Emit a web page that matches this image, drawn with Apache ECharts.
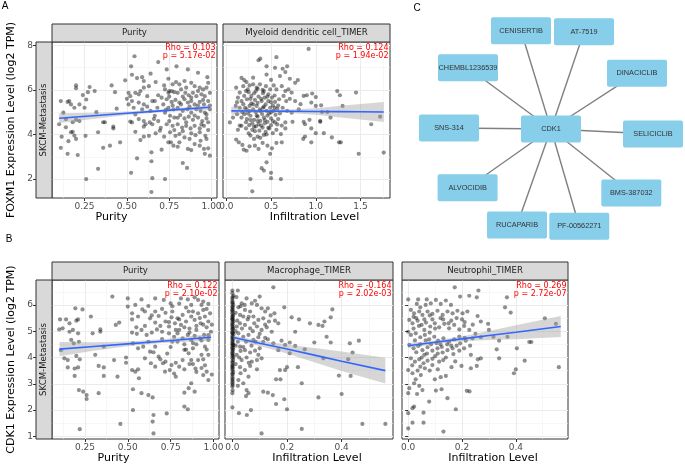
<!DOCTYPE html>
<html><head><meta charset="utf-8">
<script src="https://cdn.jsdelivr.net/npm/echarts@6/dist/echarts.min.js"></script>
<style>html,body{margin:0;padding:0;background:#fff}#c{width:685px;height:470px}</style>
</head><body><div id="c"></div>
<script>
// ---------------- DATA ----------------
const a1Points = [[0.11,5.5],[0.15,5.46],[0.16,5.5],[0.2,6.2],[0.2,6.08],[0.24,5.77],[0.28,6.13],[0.31,5.95],[0.26,5.57],[0.19,5.2],[0.17,5.35],[0.22,5.35],[0.25,5.2],[0.32,5.0],[0.125,4.98],[0.1,4.46],[0.14,4.69],[0.18,4.55],[0.2,4.66],[0.22,4.6],[0.14,4.32],[0.17,4.1],[0.18,4.12],[0.19,3.95],[0.2,3.8],[0.155,3.7],[0.115,3.9],[0.11,3.4],[0.15,3.13],[0.21,3.08],[0.256,3.94],[0.33,4.1],[0.36,4.55],[0.37,4.55],[0.42,4.35],[0.42,4.27],[0.36,3.4],[0.4,3.5],[0.46,3.65],[0.33,2.46],[0.26,2.0],[0.41,6.2],[0.43,5.9],[0.44,5.16],[0.27,5.9],
[0.545,7.51],[0.525,7.06],[0.53,6.68],[0.49,6.43],[0.56,6.53],[0.59,6.57],[0.6,6.4],[0.64,6.73],[0.51,5.87],[0.52,5.72],[0.5,5.6],[0.55,5.87],[0.57,5.8],[0.6,6.1],[0.63,6.17],[0.62,5.72],[0.57,5.43],[0.6,5.35],[0.65,5.5],[0.51,5.35],[0.54,5.2],[0.59,5.13],[0.64,5.06],[0.52,4.58],[0.53,4.54],[0.57,4.69],[0.6,4.6],[0.61,4.46],[0.635,4.54],[0.55,4.12],[0.6,3.9],[0.63,3.94],[0.65,4.46],[0.645,3.2],[0.56,2.93],[0.525,2.28],[0.645,2.8],[0.65,2.04],[0.645,1.42],[0.67,6.35],[0.685,5.76],[0.665,5.5],[0.68,5.2],[0.665,4.84],[0.685,4.6],[0.695,4.17],[0.705,3.32],[0.725,2.0],[0.735,6.92],[0.685,7.25],
[0.793,7.06],[0.86,6.92],[0.92,6.77],[0.975,6.57],[0.745,6.5],[0.79,6.35],[0.77,6.25],[0.81,6.25],[0.84,6.4],[0.88,6.32],[0.9,6.17],[0.93,6.1],[0.95,6.02],[0.98,6.32],[0.725,6.02],[0.745,5.87],[0.765,5.95],[0.8,5.87],[0.82,6.02],[0.845,5.87],[0.865,5.76],[0.89,5.87],[0.91,5.72],[0.94,5.8],[0.96,5.72],[0.99,5.87],[0.705,5.65],[0.735,5.58],[0.765,5.46],[0.787,5.55],[0.81,5.43],[0.84,5.58],[0.86,5.43],[0.88,5.5],[0.9,5.35],[0.93,5.46],[0.955,5.35],[0.98,5.5],[0.715,5.35],[0.745,5.2],[0.775,5.13],[0.8,5.2],[0.83,5.06],[0.857,5.13],[0.88,4.98],[0.91,5.13],[0.935,5.06],[0.96,4.98],[0.99,5.13],[0.725,4.98],[0.755,4.84],[0.78,4.76],[0.815,4.87],[0.84,4.72],[0.865,4.8],[0.89,4.66],[0.92,4.76],[0.945,4.6],[0.97,4.72],[0.735,4.46],[0.77,4.39],[0.8,4.46],[0.826,4.31],[0.85,4.39],[0.876,4.27],[0.9,4.39],[0.93,4.27],[0.955,4.39],[0.98,4.2],[0.755,4.1],[0.787,3.94],[0.81,4.02],[0.84,3.87],[0.87,3.8],[0.905,3.97],[0.935,3.72],[0.963,3.94],[0.745,3.65],[0.775,3.5],[0.81,3.65],[0.86,3.35],[0.9,3.57],[0.955,3.35],[0.98,3.38],[0.96,3.13],[0.83,2.72],[0.855,2.5],[0.76,3.65],
[0.72,6.2],[0.75,5.7],[0.78,5.9],[0.83,5.7],[0.85,6.1],[0.88,5.65],[0.92,5.95],[0.95,5.55],[0.97,6.1],[0.99,5.3],[0.73,5.1],[0.77,5.3],[0.82,5.35],[0.87,5.25],[0.92,5.3],[0.97,4.9],[0.75,4.6],[0.8,4.75],[0.85,4.55],[0.9,4.85],[0.94,4.45],[0.98,4.55],[0.78,4.2],[0.83,4.15],[0.88,4.05],[0.93,4.1],[0.97,3.8],[0.72,3.9],[0.8,3.45],[0.88,3.3],[0.93,3.5],[0.99,3.05],[0.7,4.3],[0.75,5.95],[0.53,5.5],[0.58,5.95],[0.62,5.25],[0.66,4.7],[0.55,4.9],[0.6,4.35],[0.67,4.05],[0.58,3.75]];

const a2Points = [[0.92,7.84],[0.36,7.33],[0.38,7.4],[0.45,7.06],[0.56,7.47],[0.545,6.99],[0.63,6.95],[0.68,7.06],[0.66,6.8],[0.45,6.69],[0.6,6.62],[0.71,6.5],[0.77,6.32],[0.8,6.44],[0.17,6.54],[0.2,6.44],[0.11,6.1],[0.15,5.88],[0.19,6.17],[0.225,6.35],[0.26,6.2],[0.24,6.02],[0.3,6.25],[0.34,6.1],[0.376,6.25],[0.406,6.0],[0.443,6.17],[0.49,6.02],[0.53,6.2],[0.56,6.02],[0.62,6.17],[0.66,5.95],[0.695,6.02],[0.73,5.88],[0.865,5.73],[0.9,5.76],[0.96,5.84],[1.0,5.68],[1.24,5.95],[1.27,5.76],[1.45,5.88],
[0.13,5.65],[0.17,5.5],[0.2,5.73],[0.23,5.58],[0.28,5.73],[0.32,5.55],[0.36,5.7],[0.395,5.5],[0.43,5.65],[0.47,5.5],[0.51,5.65],[0.545,5.46],[0.59,5.58],[0.64,5.73],[0.67,5.5],[0.71,5.6],[0.77,5.5],[0.83,5.36],[0.95,5.43],[1.0,5.28],[1.06,5.31],[1.3,5.28],[0.105,5.28],[0.15,5.2],[0.19,5.36],[0.226,5.13],[0.26,5.28],[0.3,5.13],[0.34,5.28],[0.376,5.13],[0.41,5.2],[0.45,5.06],[0.49,5.2],[0.526,5.06],[0.57,5.16],[0.63,5.2],[0.68,5.06],[0.73,4.98],[0.81,5.13],[1.07,5.01],[1.13,5.01],[1.72,4.8],
[0.04,4.54],[0.075,4.76],[0.12,4.91],[0.17,4.76],[0.2,4.91],[0.23,4.69],[0.27,4.84],[0.31,4.66],[0.35,4.8],[0.38,4.61],[0.42,4.76],[0.46,4.57],[0.5,4.72],[0.545,4.54],[0.58,4.69],[0.66,4.54],[0.74,4.57],[0.865,4.57],[0.93,4.66],[1.05,4.57],[1.165,4.76],[1.62,4.46],[0.13,4.21],[0.17,4.39],[0.22,4.27],[0.256,4.42],[0.29,4.21],[0.33,4.36],[0.37,4.17],[0.406,4.31],[0.44,4.12],[0.48,4.27],[0.52,4.06],[0.56,4.21],[0.61,4.02],[0.66,4.27],[0.88,4.46],[0.95,4.27],[1.0,4.06],[1.09,4.06],[0.88,3.91],[0.86,3.8],[0.95,3.65],[1.18,3.87],[1.26,3.65],[1.28,3.65],
[0.11,3.77],[0.14,3.65],[0.18,3.53],[0.195,3.32],[0.226,3.27],[0.26,3.47],[0.31,3.8],[0.32,3.5],[0.36,3.35],[0.406,3.62],[0.46,3.5],[0.51,3.38],[0.56,3.62],[0.62,3.65],[0.49,3.13],[0.45,2.75],[0.395,2.49],[0.42,2.38],[0.5,2.28],[0.5,2.04],[0.61,2.0],[0.27,2.0],[0.29,1.45],[1.48,3.13],[1.76,3.19],[1.05,4.61],
[0.25,5.9],[0.33,5.95],[0.41,5.85],[0.47,5.8],[0.28,5.4],[0.35,5.42],[0.44,5.35],[0.52,5.3],[0.24,4.95],[0.33,5.0],[0.4,4.92],[0.48,4.95],[0.55,4.88],[0.29,4.5],[0.36,4.45],[0.43,4.5],[0.5,4.42],[0.62,4.4],[0.27,3.95],[0.35,3.9],[0.42,3.98],[0.3,6.55],[0.5,6.45],
[0.22,5.95],[0.27,5.6],[0.31,5.85],[0.35,6.05],[0.39,5.6],[0.42,5.95],[0.46,5.7],[0.5,5.45],[0.54,5.75],[0.58,5.3],[0.21,5.2],[0.26,5.05],[0.3,5.35],[0.34,4.85],[0.38,5.05],[0.42,5.25],[0.46,4.85],[0.5,5.0],[0.54,5.2],[0.6,4.95],[0.22,4.55],[0.27,4.65],[0.31,4.35],[0.35,4.6],[0.39,4.4],[0.43,4.65],[0.47,4.3],[0.52,4.6],[0.57,4.45],[0.25,4.05],[0.32,4.15],[0.38,3.85],[0.45,4.0],[0.15,4.4],[0.18,5.0],[0.12,5.45]];

const b1Points = [[0.41,6.32],[0.5,6.25],[0.58,6.21],[0.66,6.25],[0.71,6.19],[0.75,6.06],[0.81,6.25],[0.85,6.21],[0.89,6.29],[0.91,6.19],[0.94,6.13],[0.97,6.04],[0.194,5.87],[0.236,5.83],[0.285,5.56],[0.105,5.45],[0.14,5.45],[0.16,5.3],[0.2,5.4],[0.21,5.45],[0.12,5.11],[0.16,4.98],[0.18,5.05],[0.21,4.92],[0.1,5.07],[0.34,5.07],[0.34,4.98],[0.295,4.92],[0.43,5.24],[0.45,5.33],[0.525,5.68],[0.5,5.94],[0.544,6.0],[0.525,5.45],[0.56,5.56],[0.585,5.83],[0.62,5.96],[0.6,5.75],[0.63,5.49],[0.66,5.33],[0.68,5.58],[0.69,5.2],[0.525,4.95],[0.553,4.9],[0.58,5.05],[0.61,4.86],[0.64,4.95],[0.67,5.07],[0.7,4.98],[0.72,5.37],[0.74,5.18],[0.755,5.53],[0.775,5.3],[0.79,5.49],[0.81,5.24],[0.82,5.62],[0.84,5.37],[0.855,5.75],[0.87,5.56],[0.89,5.43],[0.91,5.68],[0.925,5.3],[0.94,5.81],[0.95,5.56],[0.97,5.37],[0.98,5.68],[0.74,4.92],[0.77,4.79],[0.79,4.92],[0.82,4.73],[0.85,4.86],[0.87,4.67],[0.89,4.82],[0.92,4.73],[0.945,4.86],[0.97,4.67],[0.985,4.98],
[0.17,4.67],[0.185,4.54],[0.215,4.6],[0.11,4.28],[0.13,3.97],[0.15,3.9],[0.2,4.06],[0.22,3.93],[0.21,3.62],[0.19,3.58],[0.15,3.62],[0.19,3.3],[0.31,4.1],[0.36,4.41],[0.42,3.9],[0.33,3.68],[0.36,3.62],[0.36,3.3],[0.44,3.27],[0.49,4.0],[0.53,4.54],[0.56,4.35],[0.59,4.41],[0.6,3.97],[0.525,3.52],[0.56,3.55],[0.565,3.21],[0.63,4.22],[0.66,4.41],[0.68,4.03],[0.635,3.78],[0.66,3.65],[0.69,3.93],[0.705,3.78],[0.72,3.84],[0.745,3.52],[0.717,3.46],[0.755,3.71],[0.77,3.39],[0.78,3.27],[0.8,3.65],[0.82,3.9],[0.83,4.29],[0.855,4.16],[0.87,3.9],[0.88,4.35],[0.895,3.58],[0.91,3.9],[0.93,4.1],[0.94,3.93],[0.95,4.41],[0.96,3.46],[0.97,3.14],[0.94,3.33],[0.87,3.02],[0.855,2.83],[0.89,2.7],[0.83,2.66],[0.215,2.76],[0.24,2.7],[0.26,2.57],[0.26,2.42],[0.33,2.64],[0.53,2.79],[0.58,2.64],[0.62,2.57],[0.645,2.48],[0.53,2.0],[0.65,1.81],[0.645,1.56],[0.65,1.11],[0.727,1.87],[0.83,2.13],[0.85,2.03],[0.457,1.47],[0.22,1.27],[0.49,3.8],[0.544,3.46],
[0.76,5.75],[0.8,6.05],[0.87,6.0],[0.93,6.0],[0.9,5.2],[0.96,5.15],[0.8,5.05],[0.86,5.1],[0.76,4.6],[0.83,4.5],[0.9,4.5],[0.96,4.3],[0.88,3.75],[0.93,3.6],[0.66,5.75],[0.7,5.85],[0.62,4.6],[0.7,4.7],
[0.72,5.7],[0.76,5.95],[0.8,5.45],[0.84,5.9],[0.88,5.75],[0.92,5.5],[0.96,5.85],[0.99,5.25],[0.74,5.35],[0.78,5.05],[0.83,5.15],[0.86,4.95],[0.9,5.05],[0.94,5.25],[0.97,4.85],[0.75,4.4],[0.79,4.6],[0.84,4.3],[0.88,4.55],[0.93,4.65],[0.97,4.1],[0.73,4.15],[0.78,3.8],[0.83,3.55],[0.86,3.75],[0.9,3.45],[0.95,3.7],[0.99,3.35],[0.6,5.2],[0.64,5.6],[0.55,5.15],[0.65,4.2]];

const b2Points = [[0,6.55],[0,6.45],[0,6.25],[0,6.16],[0,6.06],[0,5.94],[0,5.83],[0,5.75],[0,5.68],[0,5.58],[0,5.49],[0,5.43],[0,5.33],[0,5.24],[0,5.18],[0,5.07],[0,4.98],[0,4.92],[0,4.82],[0,4.73],[0,4.64],[0,4.54],[0,4.44],[0,4.35],[0,4.26],[0,4.16],[0,4.06],[0,3.97],[0,3.84],[0,3.71],[0,3.63],[0,3.52],[0,3.4],[0,3.27],[0,3.14],[0,3.02],[0,2.89],[0,2.64],[0,2.1],
[0.003,6.0],[0.003,5.62],[0.003,5.12],[0.003,4.7],[0.003,4.3],[0.003,3.9],[0.003,3.45],[0.004,6.35],[0.004,5.38],[0.004,4.88],[0.004,4.48],[0.004,4.02],
[0.001,6.3],[0.001,6.1],[0.001,5.9],[0.001,5.8],[0.001,5.55],[0.001,5.45],[0.001,5.27],[0.001,5.1],[0.001,4.95],[0.001,4.78],[0.001,4.6],[0.001,4.5],[0.001,4.38],[0.001,4.2],[0.001,4.1],[0.001,3.8],[0.001,3.68],[0.001,3.58],[0.001,3.35],[0.001,3.2],[0.001,3.08],[0.001,2.95],[0.001,2.75],
[0.02,6.55],[0.15,6.67],[0.052,6.25],[0.083,6.16],[0.1,6.32],[0.09,6.0],[0.071,6.06],[0.034,6.06],[0.022,5.91],[0.046,5.81],[0.065,5.75],[0.107,5.87],[0.12,5.75],[0.13,5.87],[0.19,5.91],[0.154,5.68],[0.028,5.62],[0.04,5.56],[0.056,5.45],[0.077,5.56],[0.095,5.43],[0.113,5.49],[0.134,5.37],[0.156,5.4],[0.168,5.3],[0.028,5.3],[0.016,5.18],[0.046,5.24],[0.065,5.11],[0.09,5.18],[0.107,5.05],[0.126,5.15],[0.144,4.98],[0.217,5.53],[0.244,5.45],[0.23,4.98],[0.284,5.3],[0.315,5.24],[0.337,5.37],[0.33,5.2],[0.36,5.53],[0.366,5.83],[0.345,4.79],[0.36,4.57],[0.3,4.57],[0.43,4.54],[0.463,4.64],[0.44,4.19],[0.424,3.93],[0.333,3.97],[0.265,4.31],
[0.022,4.92],[0.04,4.79],[0.059,4.86],[0.077,4.67],[0.095,4.77],[0.113,4.6],[0.13,4.69],[0.15,4.54],[0.18,4.64],[0.193,4.48],[0.21,4.57],[0.23,4.44],[0.028,4.41],[0.046,4.28],[0.065,4.19],[0.083,4.26],[0.095,4.1],[0.107,3.97],[0.016,4.1],[0.034,3.9],[0.052,4.0],[0.071,3.84],[0.09,3.9],[0.028,3.63],[0.046,3.52],[0.065,3.68],[0.059,3.27],[0.022,3.14],[0.04,3.02],[0.02,2.92],[0.052,2.76],[0.059,2.64],[0.05,2.53],[0.113,2.7],[0.13,2.66],[0.148,2.57],[0.16,2.23],[0.19,2.41],[0.2,2.03],[0.193,3.52],[0.174,3.52],[0.2,3.63],[0.16,3.17],[0.176,3.17],[0.24,3.63],[0.254,3.02],[0.315,2.48],[0.4,2.61],[0.39,3.31],[0.433,3.3],[0.024,1.88],[0.053,1.81],[0.068,2.0],[0.107,1.11],[0.254,1.28],[0.476,1.47],[0.56,1.47],[0.21,4.16],[0.168,4.28],
[0.012,5.7],[0.012,5.0],[0.012,4.45],[0.012,3.75],[0.03,5.95],[0.06,5.55],[0.08,5.3],[0.1,4.9],[0.12,5.25],[0.14,5.6],[0.05,4.6],[0.07,4.45],[0.1,4.35],[0.12,4.75],[0.03,4.25],
[0.015,6.3],[0.018,5.4],[0.02,4.6],[0.025,4.0],[0.03,3.4],[0.035,5.1],[0.04,4.4],[0.045,6.0],[0.06,3.8],[0.075,5.0],[0.085,4.6],[0.09,3.55]];

const b3Points = [[0.173,6.67],[0.261,6.55],[0.0,6.21],[0.037,6.21],[0.069,6.21],[0.032,6.04],[0.045,5.91],[0.065,6.0],[0.084,6.06],[0.103,6.19],[0.121,6.04],[0.14,6.17],[0.159,6.0],[0.193,6.32],[0.227,6.35],[0.255,6.29],[0.367,6.29],[0.01,5.81],[0.022,5.68],[0.041,5.75],[0.053,5.62],[0.072,5.75],[0.09,5.66],[0.109,5.78],[0.128,5.62],[0.146,5.75],[0.165,5.68],[0.183,5.78],[0.202,5.68],[0.22,5.75],[0.258,5.58],[0.36,5.91],[0.381,5.71],[0.004,5.43],[0.016,5.3],[0.035,5.4],[0.05,5.24],[0.066,5.33],[0.082,5.18],[0.099,5.3],[0.115,5.15],[0.134,5.28],[0.152,5.11],[0.171,5.24],[0.19,5.07],[0.208,5.2],[0.227,5.05],[0.27,5.37],[0.297,5.28],[0.3,5.05],[0.508,5.49],[0.549,5.28],
[0.0,4.98],[0.01,4.86],[0.028,4.92],[0.045,4.77],[0.062,4.86],[0.078,4.69],[0.097,4.79],[0.111,4.64],[0.131,4.73],[0.152,4.6],[0.171,4.69],[0.193,4.54],[0.214,4.64],[0.239,4.73],[0.27,4.77],[0.317,4.79],[0.338,4.64],[0.369,4.79],[0.45,4.59],[0.458,4.59],[0.004,4.48],[0.02,4.35],[0.037,4.44],[0.053,4.28],[0.072,4.39],[0.09,4.26],[0.109,4.35],[0.128,4.19],[0.146,4.28],[0.168,4.13],[0.19,4.26],[0.208,4.35],[0.233,4.1],[0.329,4.31],[0.404,4.35],
[0.01,3.97],[0.025,3.84],[0.041,3.93],[0.057,3.78],[0.072,3.88],[0.09,3.71],[0.115,3.84],[0.161,3.63],[0.198,3.68],[0.233,3.59],[0.259,3.93],[0.27,3.97],[0.255,3.68],[0.338,3.97],[0.433,3.88],[0.4,3.55],[0.393,3.4],[0.56,3.63],[0.0,3.52],[0.016,3.4],[0.035,3.5],[0.047,3.33],[0.062,3.59],[0.028,3.17],[0.022,3.02],[0.004,2.83],[0.0,2.64],[0.041,2.92],[0.053,2.76],[0.033,2.61],[0.099,3.17],[0.121,3.25],[0.14,3.3],[0.103,2.74],[0.124,2.79],[0.146,2.45],[0.218,2.73],[0.228,2.71],[0.078,2.32],[0.022,2.13],[0.016,2.07],[0.0,1.88],[0.057,1.9],[0.177,2.03],[0.016,1.52],[0.057,1.52],[0.0,1.3],[0.131,1.18],
[0.03,5.5],[0.06,5.05],[0.09,5.45],[0.12,5.5],[0.16,5.4],[0.02,5.1],[0.08,4.95],[0.12,4.5],[0.16,4.45],[0.06,4.1],[0.1,4.05],[0.14,4.0],[0.18,4.45],[0.2,5.45],[0.24,5.25],
[0.02,5.55],[0.04,5.2],[0.06,5.45],[0.08,5.6],[0.1,5.1],[0.13,5.45],[0.15,5.3],[0.18,5.5],[0.21,5.35],[0.025,4.65],[0.045,4.5],[0.065,4.65],[0.085,4.5],[0.105,4.55],[0.125,4.4],[0.145,4.5],[0.165,4.35],[0.19,4.8],[0.21,4.75],[0.03,4.2],[0.05,4.0],[0.07,4.15],[0.09,3.95],[0.11,4.15],[0.13,3.9],[0.175,3.85],[0.015,3.7],[0.045,3.65],[0.08,3.5],[0.11,3.55],[0.23,4.45],[0.25,4.9]];

// regression fits and 95% band limits
const a1FitX = [0.1,0.3,0.5,0.7,0.99];
const a1FitY = [4.73,4.84,4.95,5.06,5.22];
const a1Lo = [4.51,4.70,4.87,5.00,5.12];
const a1Hi = [4.95,4.98,5.03,5.12,5.32];
const a2FitX = [0.056,0.25,0.45,0.7,1.0,1.25,1.5,1.76];
const a2FitY = [5.06,5.054,5.048,5.041,5.032,5.025,5.018,5.01];
const a2Lo = [4.88,4.964,4.988,4.961,4.882,4.775,4.668,4.56];
const a2Hi = [5.24,5.144,5.108,5.121,5.182,5.275,5.368,5.46];
const b1FitX = [0.102,0.3,0.5,0.7,0.986];
const b1FitY = [4.32,4.42,4.52,4.62,4.77];
const b1Lo = [4.05,4.26,4.43,4.55,4.64];
const b1Hi = [4.59,4.58,4.61,4.69,4.90];
const b2FitX = [0.004,0.1,0.2,0.3,0.4,0.56];
const b2FitY = [4.76,4.54,4.32,4.09,3.86,3.5];
const b2Lo = [4.68,4.44,4.15,3.82,3.49,3.01];
const b2Hi = [4.84,4.64,4.49,4.36,4.23,3.99];
const b3FitX = [0,0.1,0.2,0.3,0.4,0.567];
const b3FitY = [4.45,4.58,4.71,4.84,4.96,5.18];
const b3Lo = [4.35,4.51,4.62,4.67,4.69,4.78];
const b3Hi = [4.55,4.65,4.80,5.01,5.23,5.58];

const stripTitles = ['Purity','Myeloid dendritic cell_TIMER','Purity','Macrophage_TIMER','Neutrophil_TIMER'];
const rhoTexts = ['Rho = 0.103','Rho = 0.124','Rho = 0.122','Rho = -0.164','Rho = 0.269'];
const pTexts = ['p = 5.17e-02','p = 1.94e-02','p = 2.10e-02','p = 2.02e-03','p = 2.72e-07'];
const xTitles = ['Purity','Infiltration Level','Purity','Infiltration Level','Infiltration Level'];
const yTitles = ['FOXM1 Expression Level (log2 TPM)','CDK1 Expression Level (log2 TPM)'];
const rowStrip = 'SKCM-Metastasis';

const xTicksPurity = [0.25,0.5,0.75,1.0];
const xMinorPurity = [0.125,0.375,0.625,0.875];
const xTicksMyeloid = [0,0.5,1,1.5];
const xMinorMyeloid = [0.25,0.75,1.25,1.75];
const xTicksTimer = [0,0.2,0.4];
const xMinorTimer = [0.1,0.3,0.5];
const yTicksA = [2,4,6,8];
const yMinorA = [3,5,7];
const yTicksB = [1,2,3,4,5,6];
const yMinorB = [1.5,2.5,3.5,4.5,5.5,6.5];

const networkNodes = ['CDK1','CENISERTIB','AT-7519','CHEMBL1236539','DINACICLIB','SNS-314','SELICICLIB','ALVOCIDIB','BMS-387032','RUCAPARIB','PF-00562271'];
const nodeX = [0,-30,33,-83,86,-102,102,-83.4,80.3,-34,28.3];
const nodeY = [0,-98.2,-97.2,-61.3,-55.8,-1,5,58.8,64,96,97.3];

// ---------------- LAYOUT ----------------
const panels = [
  {grid:{left:52,top:42,width:165,height:156}, xr:[0.058,1.032], yr:[1.15,8.15], xt:xTicksPurity, xm:xMinorPurity, yt:yTicksA, ym:yMinorA, dec:2, ymode:'labels', pts:a1Points, fx:a1FitX, fy:a1FitY, lo:a1Lo, hi:a1Hi, yTitle:yTitles[0], xpad:[0,46,0,0]},
  {grid:{left:223,top:42,width:167,height:156}, xr:[-0.037,1.83], yr:[1.15,8.15], xt:xTicksMyeloid, xm:xMinorMyeloid, yt:yTicksA, ym:yMinorA, dec:1, ymode:'none', pts:a2Points, fx:a2FitX, fy:a2FitY, lo:a2Lo, hi:a2Hi, xpad:[0,0,0,16]},
  {grid:{left:52,top:280,width:167,height:159}, xr:[0.058,1.032], yr:[0.897,6.95], xt:xTicksPurity, xm:xMinorPurity, yt:yTicksB, ym:yMinorB, dec:2, ymode:'labels', pts:b1Points, fx:b1FitX, fy:b1FitY, lo:b1Lo, hi:b1Hi, yTitle:yTitles[1], xpad:[0,44,0,0]},
  {grid:{left:225,top:280,width:168,height:159}, xr:[-0.027,0.588], yr:[0.897,6.95], xt:xTicksTimer, xm:xMinorTimer, yt:yTicksB, ym:yMinorB, dec:1, ymode:'none', pts:b2Points, fx:b2FitX, fy:b2FitY, lo:b2Lo, hi:b2Hi, xpad:[0,0,0,16]},
  {grid:{left:402,top:280,width:166,height:159}, xr:[-0.023,0.594], yr:[0.897,6.95], xt:xTicksTimer, xm:xMinorTimer, yt:yTicksB, ym:yMinorB, dec:1, ymode:'ticks', pts:b3Points, fx:b3FitX, fy:b3FitY, lo:b3Lo, hi:b3Hi, xpad:[0,0,0,16]}
];

const FONT = 'DejaVu Sans';
const grids = [], xAxes = [], yAxes = [], series = [], graphics = [];

function bandRenderer(bx, lo, hi) {
  return function (params, api) {
    if (params.dataIndex !== 0) return;
    const pts = [];
    for (let k = 0; k < bx.length; k++) pts.push(api.coord([bx[k], hi[k]]));
    for (let k = bx.length - 1; k >= 0; k--) pts.push(api.coord([bx[k], lo[k]]));
    return {type:'polygon', shape:{points:pts}, style:{fill:'rgba(153,153,153,0.4)'}};
  };
}

panels.forEach((p, i) => {
  grids.push(Object.assign({show:true, borderColor:'#333333', borderWidth:1, backgroundColor:'#fff'}, p.grid));
  xAxes.push({
    gridIndex:i, type:'value', min:p.xr[0], max:p.xr[1], position:'bottom',
    name:xTitles[i], nameLocation:'middle', nameGap:14,
    nameTextStyle:{fontFamily:FONT, fontSize:11, color:'#000', padding:p.xpad},
    axisLine:{show:false},
    axisTick:{show:true, length:3, lineStyle:{color:'#333'}, customValues:p.xt},
    axisLabel:{show:true, margin:4, fontFamily:FONT, fontSize:9, color:'#4d4d4d', customValues:p.xt,
      formatter:(v)=>Number(v).toFixed(p.dec)},
    splitLine:{show:true, lineStyle:{color:'#ebebeb', width:1}}
  });
  xAxes.push({
    gridIndex:i, type:'value', min:p.xr[0], max:p.xr[1], position:'top',
    axisLine:{show:false}, axisTick:{show:false, customValues:p.xm}, axisLabel:{show:false, customValues:p.xm},
    splitLine:{show:true, lineStyle:{color:'#f2f2f2', width:0.6}}
  });
  const yMain = {
    gridIndex:i, type:'value', min:p.yr[0], max:p.yr[1], position:'left',
    axisLine:{show:false},
    axisTick:{show:p.ymode !== 'none', length:3, lineStyle:{color:'#333'}, customValues:p.yt},
    axisLabel:{show:p.ymode === 'labels', margin:3, fontFamily:FONT, fontSize:9, color:'#4d4d4d', customValues:p.yt},
    splitLine:{show:true, lineStyle:{color:'#ebebeb', width:1}}
  };
  if (p.ymode === 'labels') {
    yMain.offset = 16;
    yMain.name = p.yTitle; yMain.nameLocation = 'middle'; yMain.nameRotate = 90; yMain.nameGap = 19;
    yMain.nameTextStyle = {fontFamily:FONT, fontSize:11, color:'#000'};
  }
  yAxes.push(yMain);
  yAxes.push({
    gridIndex:i, type:'value', min:p.yr[0], max:p.yr[1], position:'right',
    axisLine:{show:false}, axisTick:{show:false, customValues:p.ym}, axisLabel:{show:false, customValues:p.ym},
    splitLine:{show:true, lineStyle:{color:'#f2f2f2', width:0.6}}
  });

  const xi = 2*i, yi = 2*i;
  series.push({
    type:'custom', xAxisIndex:xi, yAxisIndex:yi, silent:true, z:3,
    data:p.fx.map((x,k)=>[x, p.lo[k], p.hi[k]]),
    encode:{x:0, y:1},
    renderItem:bandRenderer(p.fx, p.lo, p.hi)
  });
  series.push({
    type:'scatter', xAxisIndex:xi, yAxisIndex:yi, data:p.pts, symbolSize:4.2, silent:true, z:2,
    itemStyle:{color:'rgba(0,0,0,0.55)'}
  });
  series.push({
    type:'line', xAxisIndex:xi, yAxisIndex:yi, data:p.fx.map((x,k)=>[x, p.fy[k]]),
    showSymbol:false, silent:true, z:4, lineStyle:{color:'#3366FF', width:1.6}
  });

  const g = p.grid;
  graphics.push({type:'rect', shape:{x:g.left, y:g.top-18, width:g.width, height:18},
    style:{fill:'#d9d9d9', stroke:'#333333', lineWidth:1}, z:10});
  graphics.push({type:'text', x:g.left + g.width/2, y:g.top-9,
    style:{text:stripTitles[i], fontFamily:FONT, fontSize:8.6, fill:'#1a1a1a', align:'center', verticalAlign:'middle'}, z:11});
  graphics.push({type:'text', x:g.left + g.width - 1.5, y:g.top + 1.5,
    style:{text:rhoTexts[i] + '\n' + pTexts[i], fontFamily:FONT, fontSize:8, lineHeight:8.3,
      fill:'#FF0000', align:'right', verticalAlign:'top'}, z:12});
  if (p.ymode === 'labels') {
    graphics.push({type:'rect', shape:{x:g.left-16, y:g.top, width:16, height:g.height},
      style:{fill:'#d9d9d9', stroke:'#333333', lineWidth:1}, z:10});
    graphics.push({type:'text', x:g.left-8, y:g.top + g.height/2, rotation:Math.PI/2,
      style:{text:rowStrip, fontFamily:FONT, fontSize:8.6, fill:'#1a1a1a', align:'center', verticalAlign:'middle'}, z:11});
  }
});

// network grid
grids.push({left:400, top:0, width:285, height:260, show:false});
xAxes.push({gridIndex:5, type:'value', min:-151, max:134, show:false});
yAxes.push({gridIndex:5, type:'value', min:-129, max:131, inverse:true, show:false});
const nodeShape = 'path://M2,0 H58 Q60,0 60,2 V25 Q60,27 58,27 H2 Q0,27 0,25 V2 Q0,0 2,0 Z';
series.push({
  type:'graph', coordinateSystem:'cartesian2d', xAxisIndex:10, yAxisIndex:10, silent:true,
  symbol:nodeShape, symbolSize:[60,27],
  data:networkNodes.map((n,k)=>({name:n, value:[nodeX[k], nodeY[k]]})),
  links:networkNodes.slice(1).map(n=>({source:networkNodes[0], target:n})),
  itemStyle:{color:'#87CEEB'},
  label:{show:true, position:'inside', fontFamily:'Liberation Sans', fontSize:7.3, color:'#333'},
  lineStyle:{color:'#808080', width:1.4, opacity:1, curveness:0},
  emphasis:{disabled:true}
});

graphics.push({type:'text', x:5, y:6, style:{text:'A', fontFamily:'Liberation Sans', fontSize:10, fill:'#000', align:'center', verticalAlign:'middle'}});
graphics.push({type:'text', x:9, y:239, style:{text:'B', fontFamily:'Liberation Sans', fontSize:10, fill:'#000', align:'center', verticalAlign:'middle'}});
graphics.push({type:'text', x:417, y:8, style:{text:'C', fontFamily:'Liberation Sans', fontSize:10, fill:'#000', align:'center', verticalAlign:'middle'}});

const chart = echarts.init(document.getElementById('c'), null, {renderer:'canvas'});
chart.setOption({
  animation:false, backgroundColor:'#fff',
  grid:grids, xAxis:xAxes, yAxis:yAxes, series:series, graphic:graphics
});
</script></body></html>
